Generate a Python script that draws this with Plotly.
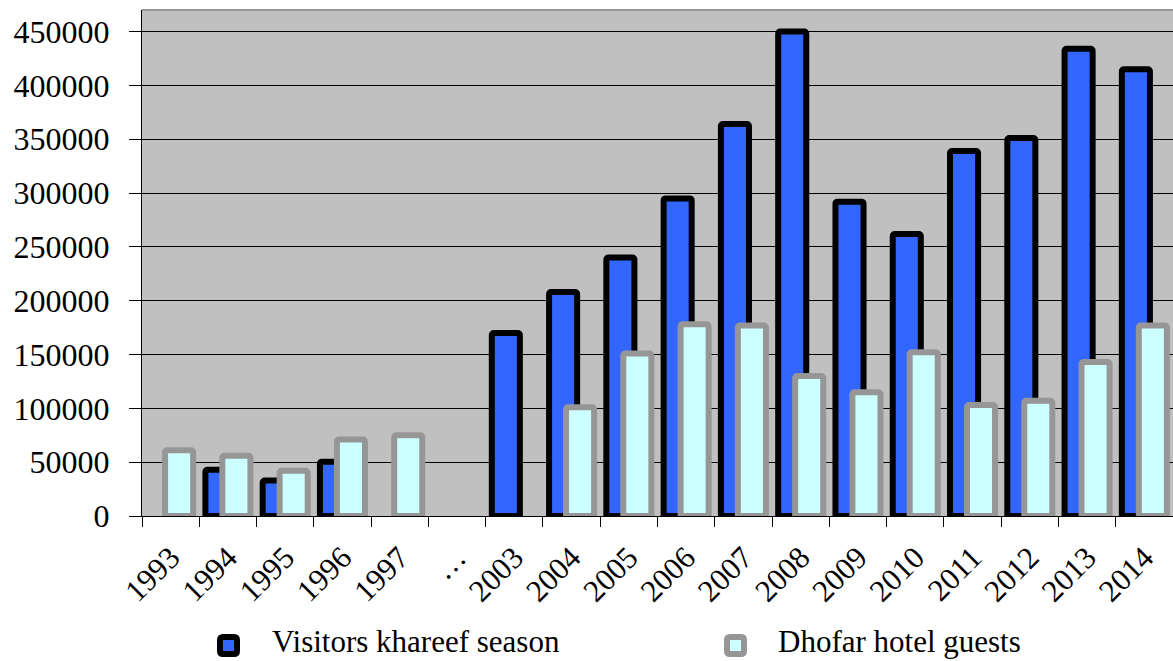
import plotly.graph_objects as go

# Category labels (the "…" slot marks the gap between 1997 and 2003)
years = ["1993", "1994", "1995", "1996", "1997", "…", "2003", "2004", "2005",
         "2006", "2007", "2008", "2009", "2010", "2011", "2012", "2013", "2014"]

# Visitors during the khareef season
visitors_khareef = [None, 43000, 33000, 50500, None, None, 170000, 208000, 240000,
                    295000, 364000, 450000, 292000, 262000, 339000, 351000, 434000, 415000]

# Guests staying in Dhofar hotels
hotel_guests = [61000, 56000, 42000, 71000, 75000, None, None, 101000, 151000,
                178000, 177000, 130000, 115000, 152000, 103000, 107000, 143000, 177000]

y_ticks = [0, 50000, 100000, 150000, 200000, 250000, 300000, 350000, 400000, 450000]

series_names = ["Visitors khareef season", "Dhofar hotel guests"]
fill_colors = ["#3366FF", "#CCFFFF"]
edge_colors = ["#000000", "#969696"]

FONT = "Liberation Serif"
BAR_W = 0.49

W, H = 1173, 661
M_L, M_R, M_T, M_B = 142, 0, 10, 145
PLOT_W = W - M_L - M_R
PLOT_H = H - M_T - M_B

fig = go.Figure()
fig.add_trace(go.Bar(
    x=years, y=visitors_khareef, name=series_names[0],
    width=BAR_W, offset=-0.393,
    marker=dict(color=fill_colors[0], line=dict(color=edge_colors[0], width=6), cornerradius=2),
))
fig.add_trace(go.Bar(
    x=years, y=hotel_guests, name=series_names[1],
    width=BAR_W, offset=-0.097,
    marker=dict(color=fill_colors[1], line=dict(color=edge_colors[1], width=6), cornerradius=2),
))


def px_to_paper_x(px):
    return (px - M_L) / PLOT_W


def px_to_paper_y(py):
    return (H - M_B - py) / PLOT_H


# Legend below the axis: rounded swatch + label for each series
r = 3
half = 8.5
swatch_path = (
    f"M{-half + r},{-half} L{half - r},{-half} Q{half},{-half} {half},{-half + r} "
    f"L{half},{half - r} Q{half},{half} {half - r},{half} "
    f"L{-half + r},{half} Q{-half},{half} {-half},{half - r} "
    f"L{-half},{-half + r} Q{-half},{-half} {-half + r},{-half} Z"
)
legend_swatch_x = [228.5, 735.5]
legend_text_x = [270, 776]
legend_swatch_y = 645.5
legend_text_y = 641

shapes = [dict(type="line", xref="paper", yref="paper", x0=0, x1=1, y0=1, y1=1,
               line=dict(color="#969696", width=2))]
annotations = []
for name, fc, ec, sx, tx in zip(series_names, fill_colors, edge_colors,
                                legend_swatch_x, legend_text_x):
    shapes.append(dict(
        type="path", xref="paper", yref="paper",
        xsizemode="pixel", ysizemode="pixel",
        xanchor=px_to_paper_x(sx), yanchor=px_to_paper_y(legend_swatch_y),
        path=swatch_path, fillcolor=fc, line=dict(color=ec, width=6),
    ))
    annotations.append(dict(
        text=name, xref="paper", yref="paper",
        x=px_to_paper_x(tx), y=px_to_paper_y(legend_text_y),
        xanchor="left", yanchor="middle", showarrow=False,
        font=dict(family=FONT, size=31, color="black"),
    ))

fig.update_layout(
    width=W, height=H,
    margin=dict(l=M_L, r=M_R, t=M_T, b=M_B, autoexpand=False),
    barmode="overlay",
    paper_bgcolor="white",
    plot_bgcolor="#C0C0C0",
    font=dict(family=FONT, size=32, color="black"),
    showlegend=False,
    shapes=shapes,
    annotations=annotations,
)

fig.update_xaxes(
    type="category", range=[-0.5, 17.5], automargin=False,
    tickson="boundaries", ticks="outside", ticklen=10, tickcolor="black",
    tickangle=-45, tickfont=dict(family=FONT, size=31), ticklabelstandoff=10,
    showline=True, linecolor="black", linewidth=1,
    showgrid=False, zeroline=False,
)
fig.update_yaxes(
    range=[0, 470000], tickvals=y_ticks, ticktext=[str(v) for v in y_ticks],
    automargin=False,
    ticks="outside", ticklen=12, tickcolor="black", ticklabelstandoff=13,
    tickfont=dict(family=FONT, size=32),
    showline=True, linecolor="black", linewidth=1,
    showgrid=True, gridcolor="black", gridwidth=1,
    zeroline=True, zerolinecolor="black", zerolinewidth=1,
)

fig.write_html("out.html")
